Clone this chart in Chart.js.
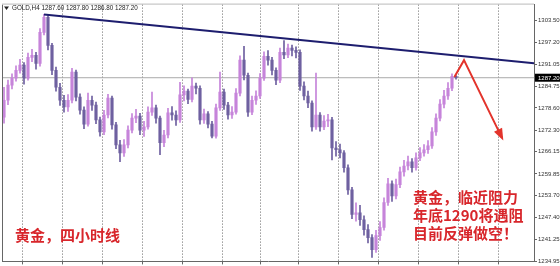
<!DOCTYPE html>
<html><head><meta charset="utf-8">
<script src="https://cdn.jsdelivr.net/npm/chart.js@4.4.1/dist/chart.umd.min.js"></script>
<style>html,body{margin:0;padding:0;background:#fff;}#wrap{width:560px;height:266px;position:relative;}</style>
</head><body><div id="wrap"><canvas id="c" width="560" height="266"></canvas></div>
<script>
const symbolTitle = 'GOLD,H4 1287.60 1287.80 1286.80 1287.20';
const firstOpen = 1276.0;
const closes = [
1280.8,1285.1,1287.1,1289.3,1290.8,1287.1,1293.0,1293.6,1291.3,1300.1,
1304.4,1296.4,1289.3,1284.5,1280.8,1278.9,1280.8,1288.8,1281.7,1278.0,
1274.0,1280.8,1279.4,1275.2,1271.8,1276.6,1281.4,1273.8,1268.1,1265.8,
1268.1,1272.3,1275.7,1276.3,1272.3,1273.2,1277.4,1278.6,1275.7,1268.7,
1270.9,1277.2,1276.6,1275.2,1282.3,1283.4,1281.0,1284.8,1284.2,1275.2,
1276.9,1274.0,1270.6,1278.6,1283.1,1279.4,1276.6,1277.4,1282.8,1292.2,
1287.9,1277.4,1280.8,1282.0,1287.1,1293.3,1292.2,1289.3,1286.5,1294.4,
1293.7,1295.6,1295.0,1294.4,1284.8,1282.0,1280.0,1273.2,1276.6,1273.2,
1274.9,1275.2,1267.2,1266.7,1265.8,1261.6,1255.3,1248.3,1248.8,1246.8,
1244.0,1241.7,1238.3,1242.3,1244.6,1251.7,1257.0,1253.6,1256.8,1260.4,
1262.1,1263.3,1261.6,1264.4,1265.8,1266.7,1267.8,1271.8,1275.7,1279.7,
1282.0,1284.2,1287.6,1287.2];
const highs = [
1284.5,1286.5,1288.3,1290.6,1292.4,1291.5,1294.2,1295.3,1294.4,1301.2,
1305.2,1304.9,1297.0,1290.2,1285.6,1282.2,1282.4,1289.9,1289.4,1282.6,
1278.9,1282.8,1282.0,1280.3,1276.0,1277.9,1282.5,1282.0,1274.5,1269.4,
1269.6,1273.5,1277.0,1278.2,1277.1,1274.8,1278.9,1283.1,1279.4,1276.3,
1272.2,1278.5,1279.0,1277.8,1285.9,1284.9,1284.0,1287.2,1285.7,1284.9,
1278.3,1277.6,1274.8,1279.7,1288.8,1284.0,1280.2,1279.0,1284.1,1293.4,
1296.1,1288.5,1282.0,1283.5,1288.4,1294.6,1294.9,1293.0,1290.0,1295.6,
1297.8,1296.8,1296.5,1296.0,1295.1,1286.0,1283.4,1280.6,1288.5,1277.3,
1276.4,1276.8,1275.9,1269.0,1268.3,1266.5,1262.4,1256.0,1251.6,1250.9,
1247.9,1245.4,1242.6,1243.8,1246.3,1253.0,1258.6,1257.9,1258.4,1261.8,
1263.7,1264.9,1264.2,1265.8,1267.3,1268.2,1269.3,1273.0,1276.9,1281.0,
1283.6,1285.8,1288.3,1287.8];
const lows = [
1274.3,1279.5,1284.0,1286.2,1288.5,1285.4,1286.5,1291.8,1289.6,1290.5,
1299.4,1295.1,1288.1,1283.4,1279.3,1277.4,1277.6,1280.0,1280.6,1276.8,
1272.7,1273.4,1277.9,1274.1,1270.6,1271.0,1275.8,1272.6,1267.0,1263.3,
1264.8,1267.2,1271.5,1274.4,1271.0,1270.5,1272.6,1276.5,1274.3,1265.3,
1267.6,1270.1,1275.1,1273.6,1274.5,1280.6,1279.8,1280.3,1282.6,1274.0,
1274.2,1272.9,1270.1,1270.0,1277.9,1278.2,1275.4,1275.6,1276.8,1282.0,
1286.6,1276.2,1276.7,1279.6,1281.3,1286.4,1290.8,1288.0,1285.2,1285.8,
1292.6,1292.9,1293.4,1292.8,1283.6,1280.9,1278.7,1272.0,1272.5,1272.0,
1272.4,1273.3,1263.8,1264.9,1264.4,1260.3,1254.0,1247.1,1246.4,1245.2,
1242.4,1240.2,1236.1,1237.5,1240.9,1243.8,1250.9,1252.0,1252.7,1255.9,
1259.2,1261.0,1260.3,1260.9,1263.6,1264.9,1265.7,1267.1,1270.8,1274.9,
1278.6,1281.0,1283.5,1286.8];
const priceTicks = [1303.50,1297.20,1291.05,1284.75,1278.60,1272.30,1266.15,1259.85,1253.70,1247.40,1241.25,1234.95];
const currentPrice = 1287.20;
const separatorBars = [0,10,20,30,40,50,60,69,79,89,99,109,119,129];
const trendLine = [{x:10,y:1305.2},{x:132.5,y:1291.3}];
const arrowPath = [{x:112.6,y:1287.4},{x:115,y:1292.2},{x:124.5,y:1270.1}];
const noteLeft = ['黄金，四小时线'];
const noteRight = ['黄金，临近阻力','年底1290将遇阻','目前反弹做空！'];

const UP = '#c684da', DOWN = '#6e60a0';
const opens = closes.map((c,i)=> i===0 ? firstOpen : closes[i-1]);
const colors = closes.map((c,i)=> c >= opens[i] ? UP : DOWN);

const overlay = {
  id:'overlay',
  afterDraw(chart){
    const {ctx, chartArea:a, scales:{x,y}} = chart;
    ctx.save();
    ctx.strokeStyle = '#666'; ctx.lineWidth = 1;
    ctx.beginPath();
    ctx.moveTo(a.left+0.5, a.top); ctx.lineTo(a.left+0.5, a.bottom);
    ctx.stroke();
    ctx.strokeStyle = '#bbb';
    ctx.beginPath(); ctx.moveTo(a.left, a.top-0.5); ctx.lineTo(a.right, a.top-0.5); ctx.stroke();
    const p1 = arrowPath[arrowPath.length-2], p2 = arrowPath[arrowPath.length-1];
    const x1 = x.getPixelForValue(p1.x), y1 = y.getPixelForValue(p1.y);
    const x2 = x.getPixelForValue(p2.x), y2 = y.getPixelForValue(p2.y);
    const ang = Math.atan2(y2-y1, x2-x1);
    ctx.fillStyle = '#e3342c';
    ctx.beginPath();
    ctx.moveTo(x2 + 3*Math.cos(ang), y2 + 3*Math.sin(ang));
    ctx.lineTo(x2 - 9*Math.cos(ang) + 4.5*Math.sin(ang), y2 - 9*Math.sin(ang) - 4.5*Math.cos(ang));
    ctx.lineTo(x2 - 9*Math.cos(ang) - 4.5*Math.sin(ang), y2 - 9*Math.sin(ang) + 4.5*Math.cos(ang));
    ctx.closePath(); ctx.fill();
    ctx.fillStyle = '#222';
    ctx.beginPath(); ctx.moveTo(a.left+2, a.top+2); ctx.lineTo(a.left+7, a.top+2); ctx.lineTo(a.left+4.5, a.top+5.5); ctx.closePath(); ctx.fill();
    ctx.font = '6.3px "Liberation Sans", Arial, sans-serif';
    ctx.textBaseline = 'middle'; ctx.textAlign = 'left';
    ctx.fillText(symbolTitle, a.left+10, a.top+4);
    const py = y.getPixelForValue(currentPrice);
    ctx.fillStyle = '#000';
    ctx.fillRect(a.right+1, py-4, chart.width-a.right-1, 8);
    ctx.fillStyle = '#fff';
    ctx.font = '6px "Liberation Sans", Arial, sans-serif';
    ctx.fillText(currentPrice.toFixed(2), a.right+4, py+0.5);
    ctx.fillStyle = '#d8262b';
    ctx.font = 'bold 15px "Noto Sans CJK SC", sans-serif';
    ctx.textBaseline = 'middle';
    noteLeft.forEach((t,i)=> ctx.fillText(t, a.left+13, a.top+231 + i*18));
    noteRight.forEach((t,i)=> ctx.fillText(t, a.left+411, a.top+193 + i*18));
    ctx.restore();
  }
};

new Chart(document.getElementById('c'), {
  type:'bar',
  data:{
    datasets:[
      {type:'line', data: trendLine, borderColor:'#1d1d6e', borderWidth:2, pointRadius:0, order:0},
      {type:'line', data: arrowPath, borderColor:'#e3342c', borderWidth:2, pointRadius:0, order:0},
      {type:'bar', data: closes.map((c,i)=>({x:i, y:[lows[i], highs[i]]})), backgroundColor: colors, barThickness:1, grouped:false, order:2},
      {type:'bar', data: closes.map((c,i)=>({x:i, y:[opens[i], c]})), backgroundColor: colors, barThickness:2.5, minBarLength:1, grouped:false, order:1},
      {type:'line', data:[{x:-0.5,y:currentPrice},{x:132.5,y:currentPrice}], borderColor:'#a9a9a9', borderWidth:1, pointRadius:0, order:3}
    ]
  },
  options:{
    responsive:false, animation:false, devicePixelRatio:1,
    layout:{padding:{left:2, top:4, right:0, bottom:0}},
    plugins:{legend:{display:false}, tooltip:{enabled:false}},
    scales:{
      x:{type:'linear', min:-0.5, max:132.5, offset:false,
        afterBuildTicks: s => { s.ticks = separatorBars.map(b=>({value:b-0.5})); },
        afterFit: s => { s.height = 4; },
        ticks:{display:false},
        grid:{color:'#666', lineWidth:1, drawTicks:true, tickLength:3, tickColor:'#666'},
        border:{display:true, color:'#666', dash:[1,2]}
      },
      y:{position:'right', min:1234.95, max:1308.0,
        afterBuildTicks: s => { s.ticks = priceTicks.map(v=>({value:v})); },
        afterFit: s => { s.width = 26; },
        ticks:{font:{size:6, family:'"Liberation Sans", Arial, sans-serif'}, color:'#333', padding:1, callback: v => Number(v).toFixed(2), autoSkip:false},
        grid:{display:true, drawOnChartArea:false, drawTicks:true, tickLength:3, color:'#666'},
        border:{display:true, color:'#666'}
      }
    }
  },
  plugins:[overlay]
});
</script></body></html>
